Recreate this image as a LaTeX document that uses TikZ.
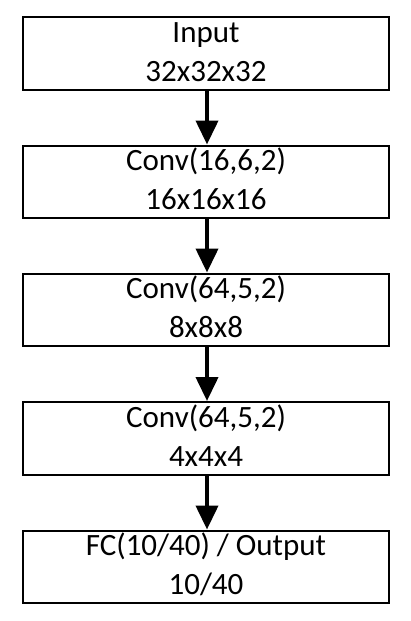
\documentclass[tikz,border=0pt]{standalone}
\usepackage{fontspec}
\setmainfont{Carlito}
\usetikzlibrary{arrows.meta}
\begin{document}
\begin{tikzpicture}[x=1pt,y=1pt,
  layerbox/.style={draw=black, line width=2pt, minimum width=366pt, minimum height=72.5pt, inner sep=0pt, anchor=north},
  txt/.style={font=\fontsize{31}{38}\selectfont, inner sep=0pt, anchor=base},
  flow/.style={line width=4pt, -{Triangle[width=22pt,length=24pt]}}]
\useasboundingbox (0,0) rectangle (410,-621);
\node[layerbox] (b1) at (206,-16) {};
\node[layerbox] (b2) at (206,-144.5) {};
\node[layerbox] (b3) at (206,-272.5) {};
\node[layerbox] (b4) at (206,-401) {};
\node[layerbox] (b5) at (206,-529.5) {};
\node[txt] (t1a) at ([yshift=-26.3pt]b1.north) {Input};
\node[txt] (t1b) at ([yshift=-65pt]b1.north) {32x32x32};
\node[txt] (t2a) at ([yshift=-26.3pt]b2.north) {Conv(16,6,2)};
\node[txt] (t2b) at ([yshift=-65pt]b2.north) {16x16x16};
\node[txt] (t3a) at ([yshift=-26.3pt]b3.north) {Conv(64,5,2)};
\node[txt] (t3b) at ([yshift=-65pt]b3.north) {8x8x8};
\node[txt] (t4a) at ([yshift=-26.3pt]b4.north) {Conv(64,5,2)};
\node[txt] (t4b) at ([yshift=-65pt]b4.north) {4x4x4};
\node[txt] (t5a) at ([yshift=-26.3pt]b5.north) {FC(10/40) / Output};
\node[txt] (t5b) at ([yshift=-65pt]b5.north) {10/40};
\draw[flow] ([xshift=1pt]b1.south) -- ([xshift=1pt]b2.north);
\draw[flow] ([xshift=1pt]b2.south) -- ([xshift=1pt]b3.north);
\draw[flow] ([xshift=1pt]b3.south) -- ([xshift=1pt]b4.north);
\draw[flow] ([xshift=1pt]b4.south) -- ([xshift=1pt]b5.north);
\end{tikzpicture}
\end{document}
